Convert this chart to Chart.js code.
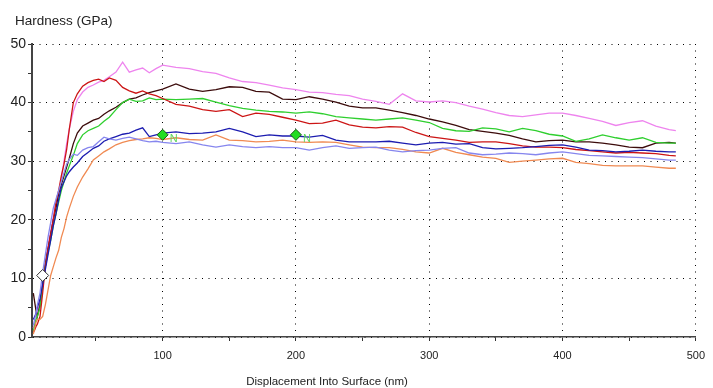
<!DOCTYPE html>
<html lang="en">
<head>
    <meta charset="UTF-8">
    <title>Hardness vs Displacement</title>
    <script src="https://cdn.jsdelivr.net/npm/chart.js"></script>
    <style>
        body {
            margin: 0;
            background-color: #ffffff;
        }
        canvas {
            display: block;
        }
    </style>
</head>
<body>
    <canvas id="grafico" width="713" height="388"></canvas>

    <script>
        // displacement into surface (nm), shared by all curves
        const displacement = [3, 4, 5, 6, 8, 10, 12, 14, 16, 18, 20, 22, 24, 26, 28, 30, 33, 36, 40, 44, 48, 52, 56, 60, 65, 70, 75, 80, 85, 90, 95, 100,
            110, 120, 130, 140, 150, 160, 170, 180, 190, 200,
            210, 220, 230, 240, 250, 260, 270, 280, 290, 300,
            310, 320, 330, 340, 350, 360, 370, 380, 390, 400,
            410, 420, 430, 440, 450, 460, 470, 480, 485];

        // x axis ticks (labels only on the hundreds)
        const xTicks = [50, 100, 150, 200, 250, 300, 350, 400, 450, 500];

        // hardness (GPa) per test
        const hardViolet = [1.5, 2.5, 3, 4, 6, 9.5, 13, 15.5, 18, 20.5, 23, 24.5, 27, 30, 33, 35.5, 38.5, 40.5, 41.8, 42.6, 43, 43.5, 43.8, 44.4, 45.2, 46.9, 45.2, 45.6, 45.9, 45.1, 45.8, 46.4,
            46, 45.8, 45.3, 45, 44.2, 43.6, 43.4, 43, 42.5, 42.2,
            41.8, 41.7, 41.4, 41.2, 40.6, 40.2, 39.7, 41.5, 40.3, 40.1,
            40.3, 40, 39.4, 38.9, 38.3, 37.8, 37.6, 37.9, 38.2, 38.2,
            37.8, 37.3, 36.8, 36.1, 36.6, 36.9, 36, 35.4, 35.2];
        const hardRed = [0.8, 1.2, 1.8, 2.2, 3.5, 7.5, 12, 15, 17.5, 20, 23, 25, 27.5, 29.5, 32, 35.5, 40, 41.5, 42.8, 43.4, 43.8, 44, 43.6, 44.2, 43.8, 42.6, 42, 41.6, 42, 41.5, 41.2, 40.7,
            39.7, 39.4, 38.8, 38.5, 38.8, 37.6, 38.2, 38, 37.5, 37,
            36.4, 36.5, 37, 36.2, 35.8, 35.7, 35.9, 35.8, 34.9, 34.2,
            33.9, 33.6, 33.2, 33.3, 33.3, 33, 32.6, 32.4, 32.4, 32.3,
            32, 31.8, 31.6, 31.4, 31.5, 31.4, 31.3, 31, 30.9];
        const hardBrown = [7.5, 6, 4.5, 3.5, 5.5, 9, 12.5, 15, 17.5, 20, 22, 24.5, 26, 27.5, 29, 30.5, 33, 34.8, 36, 36.5, 37, 37.3, 38, 38.6, 39.2, 40, 40.6, 40.8, 41.3, 41.7, 42, 42.3,
            43.2, 42.3, 41.9, 42.2, 42.7, 42.6, 41.9, 41.8, 40.6, 40.5,
            41, 40.6, 40.1, 39.4, 39.1, 39.1, 38.7, 38.3, 37.8, 37.2,
            36.7, 36.1, 35.4, 35.1, 34.8, 34.4, 33.8, 33.3, 33.5, 33.6,
            33.3, 33.3, 33.1, 32.8, 32.4, 32.3, 33.1, 33.2, 33.1];
        const hardGreen = [1, 2, 3, 3.5, 5, 8.5, 12, 14.5, 16.5, 19, 21, 23, 25, 26.5, 28, 29.2, 31, 33, 34.5, 35.2, 35.6, 36, 36.8, 37.5, 38.8, 40, 40.6, 40.2, 40.3, 40.8, 40.5, 40.6,
            40.5, 40.6, 40.7, 40.1, 39.5, 39, 38.7, 38.5, 38.4, 38.2,
            38.4, 38.1, 37.6, 37.4, 37.2, 37, 37.2, 37.4, 37, 36.6,
            35.6, 35.2, 35.1, 35.7, 35.5, 35, 35.6, 35.2, 34.6, 34.3,
            33.4, 33.8, 34.5, 34, 33.6, 34, 33.2, 33.1, 33.1];
        const hardBlue = [3, 3.5, 4, 5, 6.5, 9, 11.5, 14, 16.5, 19, 21, 23.5, 25.5, 26.5, 27.5, 28.2, 29, 29.7, 30.8, 31.5, 32.2, 32.6, 33.4, 33.8, 34.2, 34.6, 34.8, 35.3, 35.7, 34.2, 34.5, 34.8,
            35, 34.7, 34.8, 35, 35.6, 35, 34.2, 34.5, 34.3, 34.3,
            34.1, 34.4, 33.6, 33.3, 33.3, 33.3, 33.4, 33.1, 32.8, 33.1,
            33.2, 32.9, 33, 32.3, 32.1, 32.2, 32.3, 32.5, 32.7, 32.8,
            32.4, 31.9, 31.8, 31.6, 31.7, 31.9, 31.7, 31.6, 31.6];
        const hardLightBlue = [2, 3, 4, 5.5, 7.5, 11, 14, 17, 19.5, 22, 23.5, 25, 26.5, 28, 29.5, 30.3, 31.2, 31, 31.9, 32.3, 32.5, 33.3, 34.1, 33.8, 33.6, 33.9, 34.1, 33.8, 33.5, 33.3, 33.4, 33.2,
            33, 33.3, 32.8, 32.4, 32.8, 32.5, 32.3, 32.5, 32.3, 32.3,
            31.9, 32.3, 32.6, 32.2, 32.3, 32.4, 31.9, 31.6, 31.8, 31.9,
            32.2, 32.3, 31.4, 31.1, 31.2, 31.4, 31.3, 31.1, 31.4, 31.6,
            31.3, 31, 30.9, 30.8, 30.7, 30.6, 30.4, 30.2, 30.2];
        const hardOrange = [0.5, 1.5, 2.5, 3, 3, 3.5, 5.5, 8, 10.5, 12, 13.5, 14.8, 17, 18.5, 20.5, 22, 24, 25.6, 27.3, 28.7, 30.2, 30.9, 31.6, 32.1, 32.8, 33.2, 33.5, 33.7, 33.8, 34, 33.9, 33.7,
            34, 33.7, 33.6, 34.5, 33.6, 33.5, 33.3, 33.4, 33.6, 33.3,
            33.2, 33.3, 33.2, 32.8, 32.4, 32.3, 32.3, 32, 31.6, 31.4,
            32.2, 31.5, 31.1, 30.7, 30.5, 29.8, 30, 30.2, 30.4, 30.5,
            29.8, 29.6, 29.3, 29.2, 29.2, 29.2, 29, 28.8, 28.8];

        // marker points
        const whiteMarkX = [10];
        const whiteMarkY = [10.5];
        const greenMarkX = [100, 200];
        const greenMarkY = [34.5, 34.5];

        const puntos = (xs, ys) => xs.map((x, i) => ({ x: x, y: ys[i] }));

        function curva(valores, color) {
            return {
                data: puntos(displacement, valores),
                borderColor: color,
                borderWidth: 1.3,
                pointRadius: 0,
                fill: false,
                tension: 0
            };
        }

        const textos = {
            id: "textos",
            afterDraw(chart) {
                const ctx = chart.ctx;
                const xs = chart.scales.x;
                const ys = chart.scales.y;
                ctx.save();
                ctx.fillStyle = "#222";
                ctx.textBaseline = "alphabetic";
                ctx.font = "13.5px 'Liberation Sans', Arial, sans-serif";
                ctx.textAlign = "left";
                ctx.fillText("Hardness (GPa)", 15, 25);
                ctx.font = "11.5px 'Liberation Sans', Arial, sans-serif";
                ctx.textAlign = "center";
                ctx.fillText("Displacement Into Surface (nm)", 327, 385);
                // little green tags next to the green markers
                ctx.fillStyle = "#5fd65f";
                ctx.font = "11px 'Liberation Sans', Arial, sans-serif";
                ctx.textAlign = "left";
                ctx.textBaseline = "middle";
                greenMarkX.forEach((x, i) => {
                    ctx.fillText("N", xs.getPixelForValue(x) + 7, ys.getPixelForValue(greenMarkY[i]) + 4);
                });
                ctx.restore();
            }
        };

        const ctx = document.getElementById("grafico").getContext("2d");
        new Chart(ctx, {
            type: "line",
            data: {
                datasets: [
                    {
                        type: "scatter",
                        data: puntos(whiteMarkX, whiteMarkY),
                        pointStyle: "rectRot",
                        pointRadius: 6,
                        backgroundColor: "#ffffff",
                        borderColor: "#333",
                        borderWidth: 1,
                        showLine: false
                    },
                    {
                        type: "scatter",
                        data: puntos(greenMarkX, greenMarkY),
                        pointStyle: "rectRot",
                        pointRadius: 5.5,
                        backgroundColor: "#22dd22",
                        borderColor: "#1a5a1a",
                        borderWidth: 1,
                        showLine: false
                    },
                    curva(hardLightBlue, "#8686ee"),
                    curva(hardOrange, "#f08a52"),
                    curva(hardBlue, "#1c1cb0"),
                    curva(hardRed, "#cc1515"),
                    curva(hardGreen, "#2fcf2f"),
                    curva(hardBrown, "#3c0c0c"),
                    curva(hardViolet, "#ee84ee")
                ]
            },
            options: {
                responsive: false,
                animation: false,
                layout: { padding: { left: 0, right: 10, top: 44, bottom: 0 } },
                plugins: {
                    legend: { display: false },
                    tooltip: { enabled: false }
                },
                scales: {
                    x: {
                        type: "linear",
                        min: 2,
                        max: 500,
                        afterBuildTicks: (scale) => {
                            scale.ticks = xTicks.map(v => ({ value: v }));
                        },
                        afterFit: (scale) => { scale.height = 51; },
                        ticks: {
                            autoSkip: false,
                            maxRotation: 0,
                            padding: 8,
                            color: "#222",
                            font: { family: "'Liberation Sans', Arial, sans-serif", size: 11 },
                            callback: (v) => (v % 100 === 0 ? v : "")
                        },
                        grid: {
                            color: (c) => (c.tick && c.tick.value % 100 === 0 ? "#000" : "rgba(0,0,0,0)"),
                            lineWidth: 1,
                            tickLength: 4,
                            tickColor: "#333",
                            tickWidth: 1
                        },
                        border: { color: "#444", width: 1.5, dash: [1, 5.5] }
                    },
                    y: {
                        min: 0,
                        max: 50,
                        afterFit: (scale) => { scale.width = 32; },
                        ticks: {
                            stepSize: 5,
                            autoSkip: false,
                            padding: 2,
                            color: "#222",
                            font: { family: "'Liberation Sans', Arial, sans-serif", size: 14 },
                            callback: (v) => (v % 10 === 0 ? v : "")
                        },
                        grid: {
                            color: (c) => (c.tick && c.tick.value % 10 === 0 ? "#000" : "rgba(0,0,0,0)"),
                            lineWidth: 1,
                            tickLength: 4,
                            tickColor: "#333",
                            tickWidth: 1
                        },
                        border: { color: "#444", width: 2, dash: [1, 5.5] }
                    }
                }
            },
            plugins: [textos]
        });
    </script>
</body>
</html>
